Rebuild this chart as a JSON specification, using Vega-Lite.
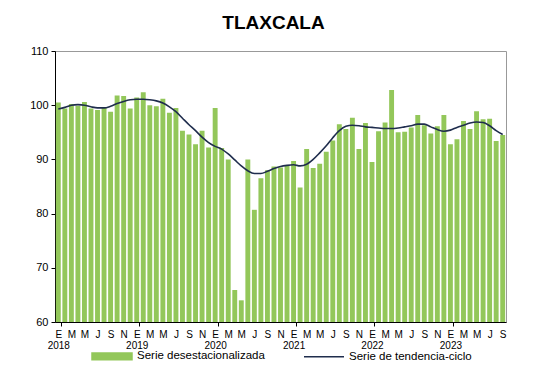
{
  "$schema": "https://vega.github.io/schema/vega-lite/v6.json",
  "width": 451,
  "height": 271,
  "autosize": {"type": "none"},
  "padding": {"left": 55, "top": 51, "right": 33, "bottom": 61},
  "background": "white",
  "title": {"text": "TLAXCALA", "font": "Liberation Sans", "fontSize": 19, "fontWeight": "bold", "color": "#000000", "offset": 12, "anchor": "middle", "dx": -7},
  "config": {
    "font": "Liberation Sans",
    "view": {"stroke": "#999999", "strokeWidth": 1}
  },
  "data": {"values": [
    {"t": "2018-01", "v": 100.5, "tr": 99.3},
    {"t": "2018-02", "v": 99.4, "tr": 99.6},
    {"t": "2018-03", "v": 100.2, "tr": 100.0},
    {"t": "2018-04", "v": 99.9, "tr": 100.1},
    {"t": "2018-05", "v": 100.6, "tr": 100.0},
    {"t": "2018-06", "v": 99.4, "tr": 99.7},
    {"t": "2018-07", "v": 99.1, "tr": 99.5},
    {"t": "2018-08", "v": 99.5, "tr": 99.5},
    {"t": "2018-09", "v": 98.8, "tr": 99.8},
    {"t": "2018-10", "v": 101.8, "tr": 100.3},
    {"t": "2018-11", "v": 101.7, "tr": 100.7},
    {"t": "2018-12", "v": 99.4, "tr": 101.0},
    {"t": "2019-01", "v": 101.4, "tr": 101.1},
    {"t": "2019-02", "v": 102.4, "tr": 101.1},
    {"t": "2019-03", "v": 100.0, "tr": 101.0},
    {"t": "2019-04", "v": 99.8, "tr": 100.8},
    {"t": "2019-05", "v": 101.2, "tr": 100.4},
    {"t": "2019-06", "v": 98.6, "tr": 99.7},
    {"t": "2019-07", "v": 99.5, "tr": 98.8},
    {"t": "2019-08", "v": 95.3, "tr": 97.6},
    {"t": "2019-09", "v": 94.6, "tr": 96.4},
    {"t": "2019-10", "v": 92.8, "tr": 95.3},
    {"t": "2019-11", "v": 95.3, "tr": 94.1},
    {"t": "2019-12", "v": 92.2, "tr": 93.1},
    {"t": "2020-01", "v": 99.5, "tr": 92.4},
    {"t": "2020-02", "v": 92.1, "tr": 91.9},
    {"t": "2020-03", "v": 90.0, "tr": 91.0},
    {"t": "2020-04", "v": 65.9, "tr": 89.9},
    {"t": "2020-05", "v": 64.0, "tr": 88.8},
    {"t": "2020-06", "v": 90.0, "tr": 87.9},
    {"t": "2020-07", "v": 80.7, "tr": 87.4},
    {"t": "2020-08", "v": 86.5, "tr": 87.4},
    {"t": "2020-09", "v": 88.0, "tr": 87.8},
    {"t": "2020-10", "v": 88.7, "tr": 88.3},
    {"t": "2020-11", "v": 88.5, "tr": 88.7},
    {"t": "2020-12", "v": 88.9, "tr": 88.9},
    {"t": "2021-01", "v": 89.7, "tr": 89.0},
    {"t": "2021-02", "v": 84.8, "tr": 88.8},
    {"t": "2021-03", "v": 91.9, "tr": 89.1},
    {"t": "2021-04", "v": 88.4, "tr": 90.0},
    {"t": "2021-05", "v": 89.2, "tr": 91.2},
    {"t": "2021-06", "v": 91.4, "tr": 92.5},
    {"t": "2021-07", "v": 93.5, "tr": 94.0},
    {"t": "2021-08", "v": 96.5, "tr": 95.3},
    {"t": "2021-09", "v": 95.6, "tr": 96.1},
    {"t": "2021-10", "v": 97.7, "tr": 96.3},
    {"t": "2021-11", "v": 91.9, "tr": 96.2},
    {"t": "2021-12", "v": 96.7, "tr": 96.0},
    {"t": "2022-01", "v": 89.5, "tr": 95.9},
    {"t": "2022-02", "v": 95.2, "tr": 95.8},
    {"t": "2022-03", "v": 96.8, "tr": 95.7},
    {"t": "2022-04", "v": 102.8, "tr": 95.7},
    {"t": "2022-05", "v": 95.0, "tr": 95.8},
    {"t": "2022-06", "v": 95.1, "tr": 96.0},
    {"t": "2022-07", "v": 95.9, "tr": 96.2},
    {"t": "2022-08", "v": 98.2, "tr": 96.5},
    {"t": "2022-09", "v": 96.3, "tr": 96.5},
    {"t": "2022-10", "v": 94.8, "tr": 96.0},
    {"t": "2022-11", "v": 96.1, "tr": 95.5},
    {"t": "2022-12", "v": 98.2, "tr": 95.2},
    {"t": "2023-01", "v": 92.8, "tr": 95.4},
    {"t": "2023-02", "v": 93.7, "tr": 95.9},
    {"t": "2023-03", "v": 97.1, "tr": 96.3},
    {"t": "2023-04", "v": 95.6, "tr": 96.7},
    {"t": "2023-05", "v": 98.9, "tr": 96.9},
    {"t": "2023-06", "v": 97.4, "tr": 96.8},
    {"t": "2023-07", "v": 97.5, "tr": 96.2},
    {"t": "2023-08", "v": 93.4, "tr": 95.3},
    {"t": "2023-09", "v": 94.5, "tr": 94.6}
  ]},
  "encoding": {
    "x": {
      "field": "t", "type": "ordinal", "sort": null,
      "scale": {"paddingInner": 0.25, "paddingOuter": 0.13},
      "axis": {
        "title": null,
        "labelAngle": 0,
        "labelOverlap": false,
        "labelFont": "Liberation Sans",
        "labelFontSize": 10,
        "labelColor": "#000000",
        "labelLineHeight": 11,
        "labelPadding": 3,
        "labelExpr": "!datum.value ? '' : toNumber(slice(datum.value + '',5,7)) % 2 == 1 ? (slice(datum.value + '',5,7) == '01' ? ['E', slice(datum.value + '',0,4)] : substring('EFMAMJJASOND', toNumber(slice(datum.value + '',5,7)) - 1, toNumber(slice(datum.value + '',5,7)))) : ''",
        "domainColor": "#000000",
        "domainWidth": 1,
        "tickBand": "extent",
        "tickColor": "#000000",
        "tickSize": 4,
        "tickOpacity": {"condition": {"test": "datum.value && slice(datum.value + '',5,7) == '01'", "value": 1}, "value": 0}
      }
    }
  },
  "layer": [
    {
      "mark": {"type": "bar", "color": "#93c75a"},
      "encoding": {
        "y": {
          "field": "v", "type": "quantitative",
          "scale": {"domain": [60, 110], "zero": false, "nice": false},
          "axis": {
            "title": null,
            "values": [60, 70, 80, 90, 100, 110],
            "grid": false,
            "labelFont": "Liberation Sans",
            "labelFontSize": 11,
            "labelColor": "#000000",
            "labelPadding": 3,
            "domainColor": "#000000",
            "tickColor": "#000000",
            "tickSize": 4
          }
        },
        "y2": {"datum": 60},
        "color": {
          "datum": "Serie desestacionalizada",
          "scale": {"domain": ["Serie desestacionalizada", "Serie de tendencia-ciclo"], "range": ["#93c75a", "#1f2d4d"]},
          "legend": {
            "title": null,
            "orient": "none",
            "legendX": 36,
            "legendY": 284,
            "direction": "horizontal",
            "columns": 2,
            "columnPadding": 36,
            "labelFont": "Liberation Sans",
            "labelFontSize": 11.5,
            "labelColor": "#000000",
            "labelOffset": 4,
            "symbolSize": 1600,
            "encode": {
              "symbols": {
                "update": {
                  "shape": {"signal": "datum.value === 'Serie desestacionalizada' ? 'M-1,-0.17H1V0.17H-1Z' : 'M-1,0H1'"},
                  "fill": {"signal": "datum.value === 'Serie desestacionalizada' ? '#93c75a' : 'transparent'"},
                  "stroke": {"signal": "datum.value === 'Serie desestacionalizada' ? 'transparent' : '#1f2d4d'"},
                  "strokeWidth": {"value": 1.5},
                  "opacity": {"value": 1}
                }
              }
            }
          }
        }
      }
    },
    {
      "mark": {"type": "line", "interpolate": "monotone", "strokeWidth": 1.6},
      "encoding": {
        "y": {"field": "tr", "type": "quantitative"},
        "color": {"datum": "Serie de tendencia-ciclo"}
      }
    }
  ]
}
